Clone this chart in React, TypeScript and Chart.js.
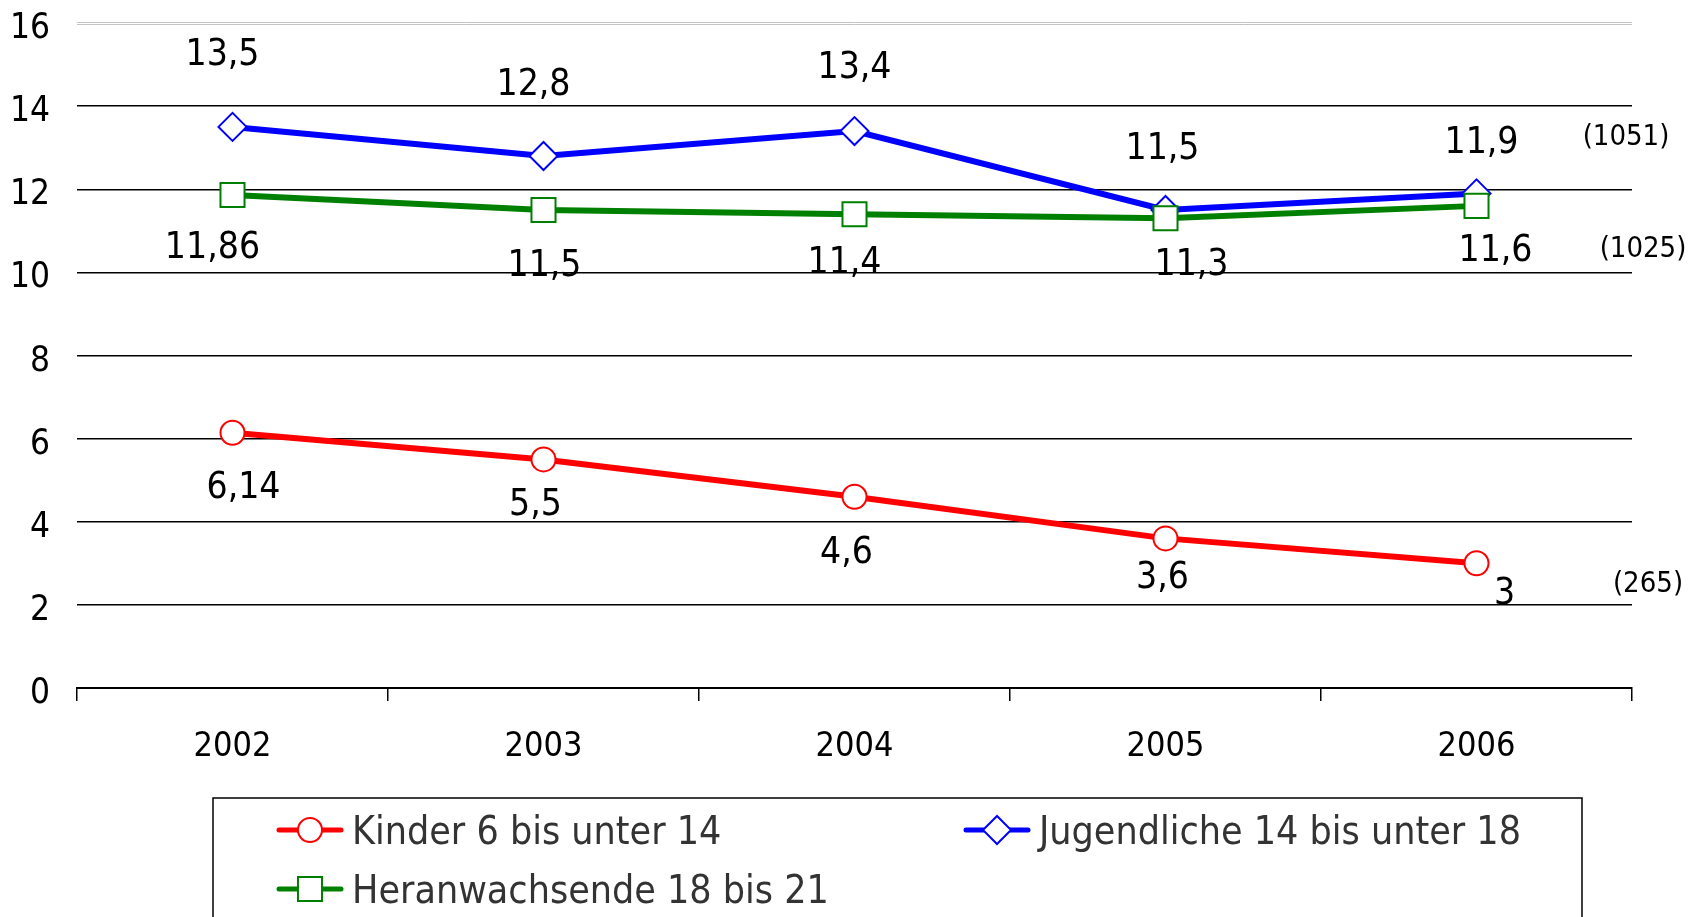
import React, { useEffect, useRef } from 'react';
import { Chart, registerables } from 'chart.js';
import { drawPoint } from 'chart.js/helpers';

Chart.register(...registerables);

// ---------- data ----------
const years = ['2002', '2003', '2004', '2005', '2006'];
const kinder = [6.14, 5.5, 4.6, 3.6, 3];
const jugendliche = [13.5, 12.8, 13.4, 11.5, 11.9];
const heranwachsende = [11.86, 11.5, 11.4, 11.3, 11.6];
const seriesNames = ['Kinder 6 bis unter 14', 'Jugendliche 14 bis unter 18', 'Heranwachsende 18 bis 21'];
const seriesTotals = ['(265)', '(1051)', '(1025)'];
const yMin = 0;
const yMax = 16;
const yStep = 2;

// ---------- layout / style (label placement offsets in px) ----------
const kinderLabelOffsets = [[11, 52], [-8, 42], [-8, 53], [-3, 36], [28, 27]];
const jugendLabelOffsets = [[-10, -76], [-10, -75], [0, -67], [-3, -65], [5, -54]];
const heranLabelOffsets = [[-20, 49], [1, 52], [-10, 45], [26, 43], [19, 42]];
const totalOffsets = [[16, 21], [-6, -56], [11, 44]]; // relative to chart right / last point
const FONT = "'DejaVu Sans Condensed', 'DejaVu Sans', sans-serif";
const BASELINE_FIX = 4;

const W = 1701;
const H = 917;

const labelOffsets = [kinderLabelOffsets, jugendLabelOffsets, heranLabelOffsets];

const fmt = (v: number) => String(v).replace('.', ',');

const dataLabelPlugin = {
  id: 'dataLabels',
  afterDatasetsDraw(chart: any) {
    const ctx = chart.ctx;
    ctx.save();
    ctx.font = `37px ${FONT}`;
    ctx.fillStyle = '#000';
    ctx.textAlign = 'center';
    ctx.textBaseline = 'middle';
    chart.data.datasets.forEach((ds: any, di: number) => {
      const meta = chart.getDatasetMeta(di);
      const offs = labelOffsets[di];
      meta.data.forEach((el: any, i: number) => {
        const [dx, dy] = offs[i];
        ctx.fillText(fmt(ds.data[i]), el.x + dx, el.y + dy + BASELINE_FIX);
      });
      const last = meta.data[meta.data.length - 1];
      const [tx, ty] = totalOffsets[di];
      ctx.save();
      ctx.font = `29px ${FONT}`;
      ctx.fillText(seriesTotals[di], chart.chartArea.right + tx, last.y + ty);
      ctx.restore();
    });
    ctx.restore();
  },
};

const topLinePlugin = {
  id: 'topLine',
  beforeDatasetsDraw(chart: any) {
    const { ctx, chartArea } = chart;
    ctx.save();
    ctx.strokeStyle = '#c4c4c4';
    ctx.lineWidth = 1;
    [chartArea.top - 0.5, chartArea.top + 1.5].forEach((y: number) => {
      ctx.beginPath();
      ctx.moveTo(chartArea.left, y);
      ctx.lineTo(chartArea.right, y);
      ctx.stroke();
    });
    ctx.restore();
  },
};

const legendPlugin = {
  id: 'boxLegend',
  afterDraw(chart: any) {
    const ctx = chart.ctx;
    const box = { left: 213, top: 798, right: 1582, bottom: 940 };
    const items = [
      { di: 0, x: 310, y: 830 },
      { di: 1, x: 997, y: 830 },
      { di: 2, x: 310, y: 889 },
    ];
    ctx.save();
    ctx.lineWidth = 1.5;
    ctx.strokeStyle = '#000';
    ctx.strokeRect(box.left, box.top, box.right - box.left, box.bottom - box.top);
    items.forEach((it) => {
      const ds = chart.data.datasets[it.di];
      ctx.strokeStyle = ds.borderColor;
      ctx.lineWidth = 5;
      ctx.lineCap = 'round';
      ctx.beginPath();
      ctx.moveTo(it.x - 31, it.y);
      ctx.lineTo(it.x + 31, it.y);
      ctx.stroke();
      ctx.fillStyle = '#fff';
      ctx.strokeStyle = ds.pointBorderColor;
      ctx.lineWidth = 2;
      drawPoint(ctx, { pointStyle: ds.pointStyle, radius: ds.pointRadius, rotation: 0, borderWidth: 2 }, it.x, it.y);
      ctx.fillStyle = '#333';
      ctx.font = `39px ${FONT}`;
      ctx.textAlign = 'left';
      ctx.textBaseline = 'middle';
      ctx.fillText(seriesNames[it.di], it.x + 42, it.y + 4);
    });
    ctx.restore();
  },
};

export default function App() {
  const ref = useRef<HTMLCanvasElement | null>(null);

  useEffect(() => {
    document.body.style.margin = '0';
    const canvas = ref.current;
    if (!canvas) return;
    const mk = (label: string, data: number[], color: string, style: string, radius: number, order: number) => ({
      label,
      data,
      borderColor: color,
      backgroundColor: color,
      borderWidth: 6,
      pointStyle: style,
      pointRadius: radius,
      pointHoverRadius: radius,
      pointBackgroundColor: '#fff',
      pointBorderColor: color,
      pointBorderWidth: 2,
      tension: 0,
      order,
    });
    const chart = new Chart(canvas, {
      type: 'line',
      data: {
        labels: years,
        datasets: [
          mk(seriesNames[0], kinder, '#ff0000', 'circle', 12, 2),
          mk(seriesNames[1], jugendliche, '#0000ff', 'rectRot', 14, 1),
          mk(seriesNames[2], heranwachsende, '#008000', 'rect', 17, 0),
        ],
      },
      options: {
        responsive: false,
        animation: false,
        events: [],
        layout: { padding: { left: 0, right: 69, top: 23, bottom: 0 } },
        plugins: {
          legend: { display: false },
          tooltip: { enabled: false },
          title: { display: false },
        },
        scales: {
          x: {
            type: 'category',
            offset: true,
            grid: {
              display: true,
              offset: true,
              drawOnChartArea: false,
              drawTicks: true,
              tickLength: 13,
              color: '#000',
              lineWidth: 1.5,
            },
            border: { display: true, color: '#000', width: 2 },
            ticks: { font: { family: FONT, size: 34 }, color: '#000', padding: 26 },
            afterFit: (s: any) => {
              s.height = H - 688;
            },
          },
          y: {
            min: yMin,
            max: yMax,
            ticks: { stepSize: yStep, font: { family: FONT, size: 35 }, color: '#000', padding: 27, labelOffset: 6 },
            grid: {
              drawTicks: false,
              color: (c: any) => (c.tick && c.tick.value === yMax ? 'rgba(0,0,0,0)' : '#000'),
              lineWidth: 1.5,
            },
            border: { display: false },
            afterFit: (s: any) => {
              s.width = 77;
              s.paddingTop = 0;
              s.paddingBottom = 0;
            },
          },
        },
      },
      plugins: [topLinePlugin, dataLabelPlugin, legendPlugin],
    } as any);
    return () => chart.destroy();
  }, []);

  return (
    <div style={{ width: W, height: H, position: 'relative', background: '#fff' }}>
      <canvas ref={ref} width={W} height={H} style={{ display: 'block' }} />
    </div>
  );
}
